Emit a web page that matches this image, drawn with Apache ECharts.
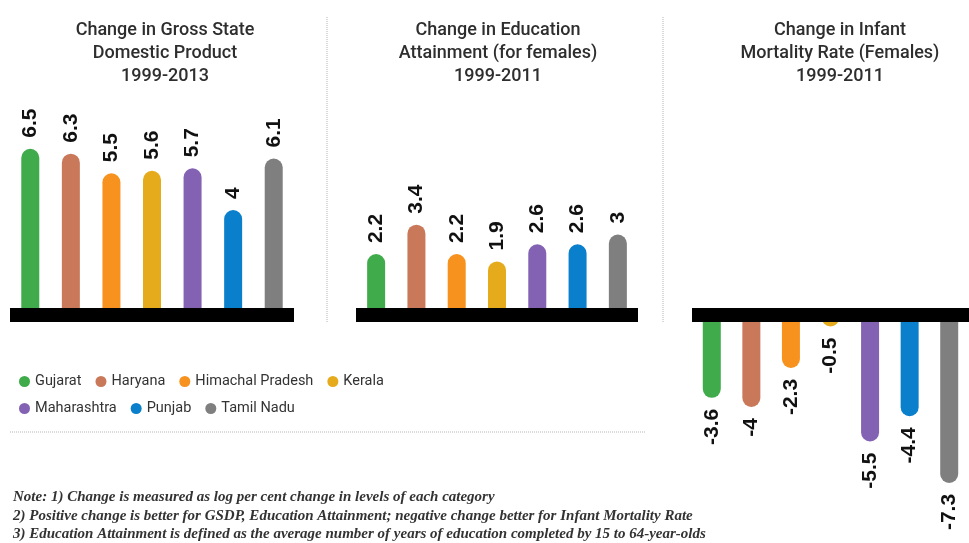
<!DOCTYPE html>
<html>
<head>
<meta charset="utf-8">
<script src="https://cdn.jsdelivr.net/npm/echarts@6/dist/echarts.min.js"></script>
<style>
  html, body { margin: 0; padding: 0; background: #fff; }
  #main { width: 969px; height: 543px; }
</style>
</head>
<body>
<div id="main"></div>
<script>
const states = ['Gujarat', 'Haryana', 'Himachal Pradesh', 'Kerala', 'Maharashtra', 'Punjab', 'Tamil Nadu'];
const stateColors = ['#3fab4a', '#c9795a', '#f7921e', '#e6ab1c', '#8462b3', '#0a80cc', '#7f7f7f'];
const gsdp = [6.5, 6.3, 5.5, 5.6, 5.7, 4, 6.1];
const education = [2.2, 3.4, 2.2, 1.9, 2.6, 2.6, 3];
const infantMortality = [-3.6, -4, -2.3, -0.5, -5.5, -4.4, -7.3];

const panelTitles = [
  'Change in Gross State\nDomestic Product\n1999-2013',
  'Change in Education\nAttainment (for females)\n1999-2011',
  'Change in Infant\nMortality Rate (Females)\n1999-2011'
];
const notes = [
  'Note: 1) Change is measured as log per cent change in levels of each category',
  '2) Positive change is better for GSDP, Education Attainment; negative change better for Infant Mortality Rate',
  '3) Education Attainment is defined as the average number of years of education completed by 15 to 64-year-olds'
];

const chart = echarts.init(document.getElementById('main'));

const labelFont = { fontFamily: 'Liberation Sans', fontWeight: 'bold', fontSize: 21, color: '#111' };
const sansFont = 'Roboto, "Liberation Sans", sans-serif';
const titleCenters = [160, 493, 835];

// one series per state and panel, stacked so each state sits in its own slot
const series = [];
[gsdp, education, infantMortality].forEach((values, p) => {
  states.forEach((name, i) => {
    const neg = values[i] < 0;
    series.push({
      name: name,
      type: 'bar',
      xAxisIndex: p,
      yAxisIndex: p,
      stack: 'panel' + p,
      barWidth: 18,
      z: 1,
      itemStyle: {
        color: stateColors[i],
        borderRadius: neg ? [0, 0, 9, 9] : [9, 9, 0, 0]
      },
      label: {
        show: true,
        position: neg ? 'bottom' : 'top',
        distance: 11,
        rotate: 90,
        align: neg ? 'right' : 'left',
        verticalAlign: 'middle',
        ...labelFont
      },
      data: values.map((v, j) => (j === i ? v : '-'))
    });
  });
});

const legendText = { fontFamily: sansFont, fontSize: 14.5, color: '#333' };

chart.setOption({
  backgroundColor: '#fff',
  animation: false,
  title: panelTitles.map((t, i) => ({
    text: t,
    left: titleCenters[i],
    top: 14,
    textAlign: 'center',
    textStyle: {
      fontFamily: sansFont,
      fontWeight: 500,
      fontSize: 18,
      lineHeight: 23,
      color: '#2e2e2e'
    }
  })),
  legend: [
    {
      data: states.slice(0, 4),
      left: 14, top: 369,
      icon: 'circle', itemWidth: 11, itemHeight: 11, itemGap: 14,
      textStyle: legendText
    },
    {
      data: states.slice(4),
      left: 14, top: 396,
      icon: 'circle', itemWidth: 11, itemHeight: 11, itemGap: 14,
      textStyle: legendText
    }
  ],
  grid: [
    { left: 10, width: 284, top: 136.5, bottom: 235 },
    { left: 356, width: 282, top: 136.5, bottom: 235 },
    { left: 692, width: 284, top: 315, bottom: 44 }
  ],
  xAxis: [0, 1, 2].map(i => ({
    type: 'category',
    gridIndex: i,
    data: states,
    position: i === 2 ? 'top' : 'bottom',
    offset: i === 2 ? 0 : 7,
    z: 5,
    axisLine: { show: true, onZero: false, lineStyle: { color: '#000', width: 14, cap: 'butt' } },
    axisTick: { show: false },
    axisLabel: { show: false }
  })),
  yAxis: [
    { type: 'value', gridIndex: 0, min: 0, max: 7, show: false },
    { type: 'value', gridIndex: 1, min: 0, max: 7, show: false },
    { type: 'value', gridIndex: 2, min: -8, max: 0, show: false }
  ],
  graphic: [
    { type: 'line', shape: { x1: 327, y1: 17, x2: 327, y2: 323 }, style: { stroke: '#b5b5b5', lineWidth: 1, lineDash: [1, 1] } },
    { type: 'line', shape: { x1: 663, y1: 17, x2: 663, y2: 322 }, style: { stroke: '#b5b5b5', lineWidth: 1, lineDash: [1, 1] } },
    { type: 'line', shape: { x1: 10, y1: 432, x2: 645, y2: 432 }, style: { stroke: '#b5b5b5', lineWidth: 1, lineDash: [1, 1] } },
    {
      type: 'text', left: 13, top: 488,
      style: {
        text: notes.join('\n'),
        fontFamily: 'Liberation Serif',
        fontStyle: 'italic',
        fontWeight: 'bold',
        fontSize: 15,
        lineHeight: 18.5,
        fill: '#333'
      }
    }
  ],
  series: series
});
</script>
</body>
</html>
